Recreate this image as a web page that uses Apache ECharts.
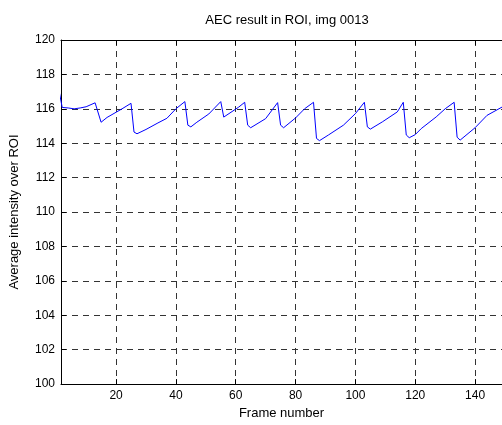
<!DOCTYPE html>
<html>
<head>
<meta charset="utf-8">
<script src="https://cdn.jsdelivr.net/npm/echarts@6/dist/echarts.min.js"></script>
<style>
html,body{margin:0;padding:0;background:#fff;}
#chart{width:502px;height:425px;}
</style>
</head>
<body>
<div id="chart"></div>
<script>
// Data
var frames = [1, 2, 4, 6, 8, 10, 13, 15, 17, 20, 22, 25, 26, 27, 30, 34, 37, 40, 43, 44, 45, 47, 51, 55, 56, 61, 63, 64, 65, 70, 74, 75, 76, 80, 83, 86, 87, 88, 91, 96, 100, 103, 104, 105, 109, 114, 116, 117, 118, 120, 122, 127, 130, 133, 134, 135, 140, 144, 149];
var intensity = [117.0, 116.08, 116.05, 116.0, 116.05, 116.12, 116.35, 115.22, 115.5, 115.8, 116.0, 116.32, 114.65, 114.55, 114.8, 115.18, 115.45, 116.0, 116.42, 115.05, 114.95, 115.22, 115.7, 116.42, 115.52, 116.1, 116.38, 115.05, 114.9, 115.43, 116.36, 115.05, 114.9, 115.47, 116.0, 116.38, 114.28, 114.15, 114.48, 115.05, 115.72, 116.38, 114.95, 114.82, 115.24, 115.82, 116.38, 114.48, 114.32, 114.5, 114.85, 115.53, 116.0, 116.38, 114.35, 114.18, 114.9, 115.62, 116.1];
var xTickLabels = [20, 40, 60, 80, 100, 120, 140];
var yTickLabels = [100, 102, 104, 106, 108, 110, 112, 114, 116, 118, 120];
var titleText = 'AEC result in ROI, img 0013';
var xLabel = 'Frame number';
var yLabel = 'Average intensity over ROI';

var seriesData = frames.map(function (f, i) { return [f, intensity[i]]; });

var font = 'Liberation Sans, Arial, Helvetica, sans-serif';
var gridLine = { show: true, lineStyle: { color: '#333', width: 1, type: [6, 5] } };

var chart = echarts.init(document.getElementById('chart'), null, { renderer: 'canvas' });
chart.setOption({
  animation: false,
  backgroundColor: '#fff',
  title: {
    text: titleText,
    left: 282, top: 9, textAlign: 'center',
    textStyle: { fontFamily: font, fontSize: 13, fontWeight: 'normal', color: '#000' }
  },
  grid: { left: 61, top: 40, right: -1, bottom: 35, containLabel: false },
  xAxis: [{
    type: 'value', min: 1.6, max: 149,
    position: 'bottom',
    axisLine: { show: true, lineStyle: { color: '#000', width: 1 } },
    axisTick: { show: true, inside: true, length: 5, lineStyle: { color: '#000' }, customValues: xTickLabels },
    axisLabel: { show: true, margin: 6, color: '#000', fontFamily: font, fontSize: 12, customValues: xTickLabels },
    splitLine: gridLine,
    name: xLabel, nameLocation: 'middle', nameGap: 21,
    nameTextStyle: { fontFamily: font, fontSize: 13, color: '#000' }
  }, {
    type: 'value', min: 1.6, max: 149,
    position: 'top',
    axisLine: { show: true, onZero: false, lineStyle: { color: '#000', width: 1 } },
    axisTick: { show: true, inside: true, length: 5, lineStyle: { color: '#000' }, customValues: xTickLabels },
    axisLabel: { show: false },
    splitLine: { show: false }
  }],
  yAxis: [{
    type: 'value', min: 100, max: 120, interval: 2,
    position: 'left',
    axisLine: { show: true, onZero: false, lineStyle: { color: '#000', width: 1 } },
    axisTick: { show: true, inside: true, length: 5, lineStyle: { color: '#000' } },
    axisLabel: { show: true, margin: 6, color: '#000', fontFamily: font, fontSize: 12 },
    splitLine: gridLine,
    name: yLabel, nameLocation: 'middle', nameGap: 40, nameRotate: 90,
    nameTextStyle: { fontFamily: font, fontSize: 13, color: '#000' }
  }],
  series: [{
    type: 'line',
    xAxisIndex: 0, yAxisIndex: 0,
    data: seriesData,
    showSymbol: false,
    symbol: 'none',
    lineStyle: { color: '#0000ff', width: 1 },
    itemStyle: { color: '#0000ff' }
  }]
});
</script>
</body>
</html>
